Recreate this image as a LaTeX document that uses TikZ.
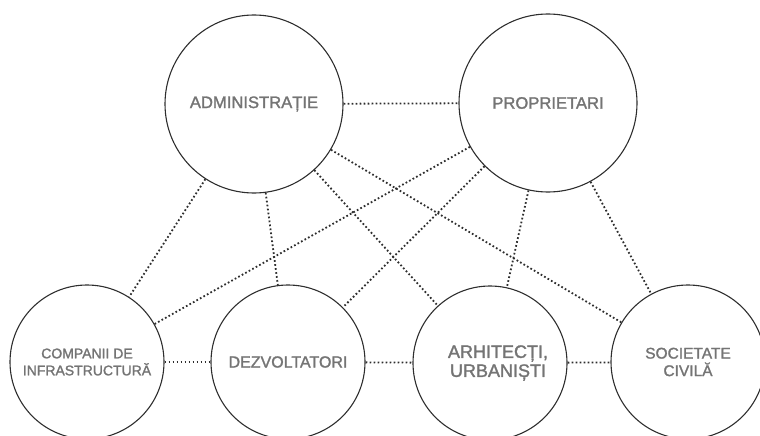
\documentclass[tikz,border=0pt]{standalone}
\usepackage{fontspec}
\newfontfamily\actorfont[FakeBold=1.6]{Liberation Sans}
\definecolor{ringgray}{HTML}{2E2E2E}
\definecolor{textgray}{HTML}{747474}
\tikzset{
  actor/.style={circle,draw=ringgray,line width=1.1pt,inner sep=0pt,align=center,text=textgray},
  bigactor/.style={actor,minimum size=178pt,font=\actorfont\fontsize{16.6}{19}\selectfont},
  smallactor/.style={actor,minimum size=154pt,font=\actorfont\fontsize{15.5}{17.5}\selectfont},
  link/.style={draw=ringgray,line width=1.8pt,dash pattern=on 1.7pt off 2.3pt}
}
\begin{document}
\begin{tikzpicture}[x=1pt,y=-1pt]
      \useasboundingbox (0,0) rectangle (760,436);
      \clip (0,0) rectangle (760,436);
      % top row
      \node[bigactor] (adm) at (254,104) {ADMINISTRAȚIE};
      \node[bigactor] (prop) at (548,103) {PROPRIETARI};
      % bottom row
      \node[smallactor,font=\actorfont\fontsize{14}{17}\selectfont] (comp) at (87,362) {COMPANII DE\\INFRASTRUCTURĂ};
      \node[smallactor,font=\actorfont\fontsize{16}{18}\selectfont] (dezv) at (288,362) {DEZVOLTATORI};
      \node[smallactor,font=\actorfont\fontsize{18}{19}\selectfont] (arh) at (490,363) {\hspace*{16pt}ARHITECȚI,\\\hspace*{16pt}URBANIȘTI};
      \node[smallactor] (soc) at (688,362) {SOCIETATE\\CIVILĂ};
      % legaturi
      \draw[link] (adm) -- (prop);
      \draw[link] (adm) -- (comp);
      \draw[link] (adm) -- (dezv);
      \draw[link] (adm) -- (arh);
      \draw[link] (adm) -- (soc);
      \draw[link] (prop) -- (comp);
      \draw[link] (prop) -- (dezv);
      \draw[link] (prop) -- (arh);
      \draw[link] (prop) -- (soc);
      \draw[link] (comp) -- (dezv);
      \draw[link] (dezv) -- (arh);
      \draw[link] (arh) -- (soc);
    \end{tikzpicture}
\end{document}
